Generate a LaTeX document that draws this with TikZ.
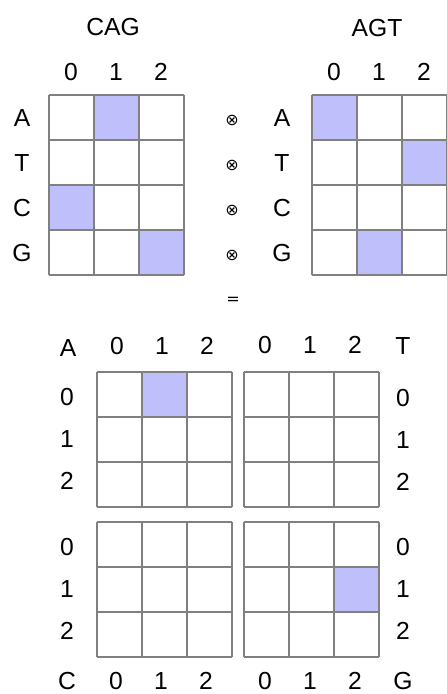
\documentclass[tikz,border=0pt]{standalone}
\usepackage{fontspec}
\setmainfont{Liberation Sans}
\newfontfamily\symfont{DejaVu Sans}
\definecolor{hitfill}{HTML}{BFBFFB}
\definecolor{gridgray}{HTML}{808080}
\tikzset{
  cellline/.style={draw=gridgray,line width=1.6pt},
  lbl/.style={font=\fontsize{18.5}{21}\selectfont,inner sep=0pt},
  opsym/.style={font=\symfont\fontsize{12}{13}\selectfont,inner sep=0pt}
}
% board: x, y, columns, rows (cells of 45)
\newcommand\board[4]{%
  \foreach \i in {0,...,#3}
    \draw[cellline] (#1+\i*45,#2) -- ++(0,#4*45);
  \foreach \j in {0,...,#4}
    \draw[cellline] (#1,#2+\j*45) -- ++(#3*45,0);
}
\begin{document}
\begin{tikzpicture}[x=0.75pt,y=-0.75pt]
  \useasboundingbox (0,0) rectangle (447,694);
  % one-hot codes
  \foreach \c/\r in {1/0,0/2,2/3}
    \fill[hitfill] (49+\c*45,95+\r*45) rectangle +(45,45);
  \foreach \c/\r in {0/0,2/1,1/3}
    \fill[hitfill] (312+\c*45,95+\r*45) rectangle +(45,45);
  \board{49}{95}{3}{4}
  \board{312}{95}{3}{4}
  \node[lbl] (cag) at (113,27) {CAG};
  \node[lbl] (agt) at (377,28) {AGT};
  \foreach \k/\b in {0/A,1/T,2/C,3/G}{
    \node[lbl] (rowl\k) at (22,118+\k*45) {\b};
    \node[lbl] (rowr\k) at (282,118+\k*45) {\b};
    \node[opsym] (otimes\k) at (232,120+\k*45) {⊗};
  }
  \foreach \k in {0,1,2}{
    \node[lbl] (coll\k) at (71+\k*45,72) {\k};
    \node[lbl] (colr\k) at (334+\k*45,72) {\k};
  }
  \node[opsym] (eq) at (233,301) {=};
  % outer product
  \fill[hitfill] (142,372) rectangle +(45,45);
  \fill[hitfill] (335,567) rectangle +(45,45);
  \board{97}{372}{3}{3}
  \board{244}{372}{3}{3}
  \board{97}{522}{3}{3}
  \board{244}{522}{3}{3}
  \node[lbl] (pa) at (68,348) {A};
  \node[lbl] (pt) at (403,346) {T};
  \node[lbl] (pc) at (67,681) {C};
  \node[lbl] (pg) at (403,681) {G};
  \foreach \k in {0,1,2}{
    \node[lbl] (topl\k) at (117+\k*45,346) {\k};
    \node[lbl] (topr\k) at (265+\k*45,345) {\k};
    \node[lbl] (botl\k) at (116+\k*45,681) {\k};
    \node[lbl] (botr\k) at (265+\k*45,681) {\k};
    \node[lbl] (sidea\k) at (67,397+\k*42) {\k};
    \node[lbl] (sidet\k) at (403,398+\k*42) {\k};
    \node[lbl] (sidec\k) at (67,547+\k*42) {\k};
    \node[lbl] (sideg\k) at (403,547+\k*42) {\k};
  }
\end{tikzpicture}
\end{document}
